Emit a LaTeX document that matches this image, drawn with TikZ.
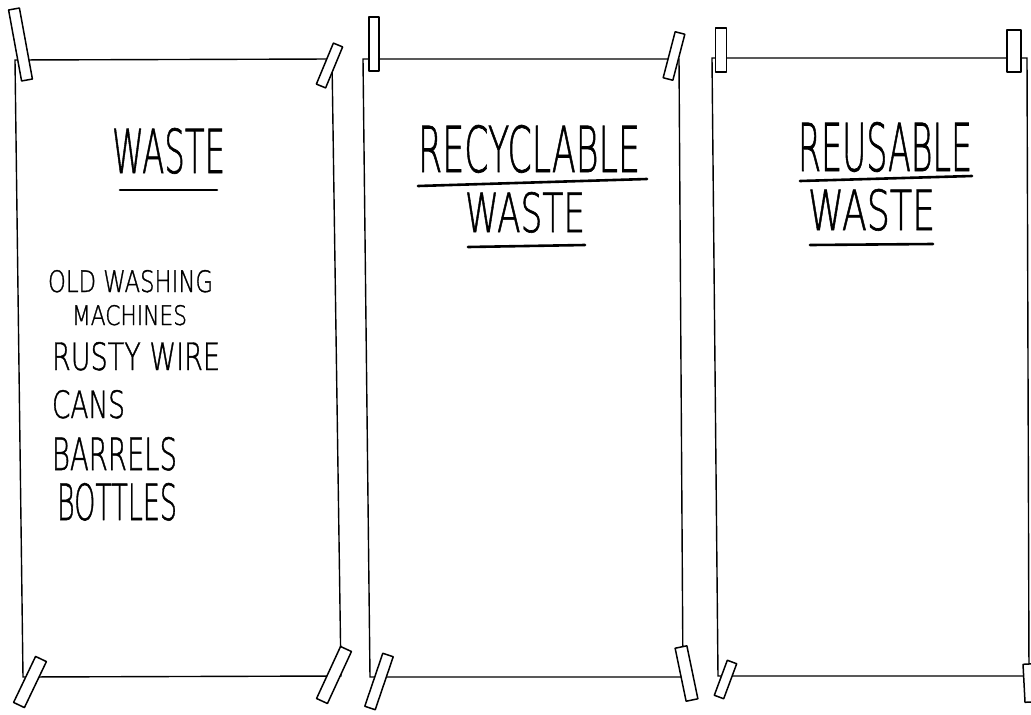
\documentclass[tikz,border=0pt]{standalone}
\usepackage{fontspec}
\usepackage{graphicx}
\usetikzlibrary{calc}
\newfontfamily\hand[FakeBold=1.2]{DejaVu Sans ExtraLight}
\newcommand{\hw}[3]{\resizebox{#1pt}{#2pt}{\hand #3}}
\newcommand{\tapeat}[3]{\draw[tapest] ($#1!#3!90:#2$) -- ($#2!#3!-90:#1$) -- ($#2!#3!90:#1$) -- ($#1!#3!-90:#2$) -- cycle;}
\tikzset{
  sheet/.style={draw=black, line width=1.4pt, line join=miter},
  tapest/.style={draw=black, fill=white, line width=1.5pt, line join=round},
  uline/.style={draw=black, line width=2.6pt, line cap=round},
  txt/.style={anchor=north west, inner sep=0pt, outer sep=0pt}
}
\begin{document}
\begin{tikzpicture}[x=1pt, y=-1pt]
\useasboundingbox (0,0) rectangle (1031,715);
\fill[white] (0,0) rectangle (1031,715);
\begin{scope}
\clip (0,0) rectangle (1031,715);
% sheets
\draw[sheet] (15,60) -- (332,59) -- (341,676) -- (23,677) -- cycle;
\draw[sheet] (363,59) -- (679,59) -- (683,677) -- (370,677) -- cycle;
\draw[sheet] (712,58) -- (1027,58) -- (1029,676) -- (718,676) -- cycle;
% tapes sheet 1
\tapeat{(14,9)}{(27,80)}{5.5pt}
\tapeat{(338,45)}{(321,86)}{5pt}
\tapeat{(41,659)}{(19,705)}{6pt}
\tapeat{(346,649)}{(322,701)}{6pt}
% tapes sheet 2
\tapeat{(374,17)}{(374,71)}{5pt}
\tapeat{(680,33)}{(668,79)}{5pt}
\tapeat{(388,655)}{(370,708)}{5.5pt}
\tapeat{(681,647)}{(692,700)}{6pt}
% tapes sheet 3
\tapeat{(721,28)}{(721,72)}{5.5pt}
\tapeat{(1014,30)}{(1014,72)}{7pt}
\tapeat{(732,662)}{(719,697)}{5pt}
\tapeat{(1029,664)}{(1031,702)}{6pt}
\end{scope}
% titles
\node[txt] (t1) at (112,128) {\hw{113}{45}{WASTE}};
\draw[uline] (120,190) -- (217,190);
\node[txt] (t2a) at (418,125) {\hw{222}{47}{RECYCLABLE}};
\draw[uline] (418,186) -- (647,179);
\node[txt] (t2b) at (465,192) {\hw{120}{40}{WASTE}};
\draw[uline] (468,247) -- (585,245);
\node[txt] (t3a) at (798,122) {\hw{174}{49}{REUSABLE}};
\draw[uline] (800,181) -- (972,176);
\node[txt] (t3b) at (808,189) {\hw{127}{41}{WASTE}};
\draw[uline] (810,245) -- (933,244);
% list
\node[txt] (l1) at (48,270) {\hw{165}{22}{OLD WASHING}};
\node[txt] (l2) at (72,305) {\hw{115}{20}{MACHINES}};
\node[txt] (l3) at (52,342) {\hw{168}{28}{RUSTY WIRE}};
\node[txt] (l4) at (52,390) {\hw{73}{28}{CANS}};
\node[txt] (l5) at (52,437) {\hw{125}{33}{BARRELS}};
\node[txt] (l6) at (57,483) {\hw{120}{37}{BOTTLES}};
\end{tikzpicture}
\end{document}
